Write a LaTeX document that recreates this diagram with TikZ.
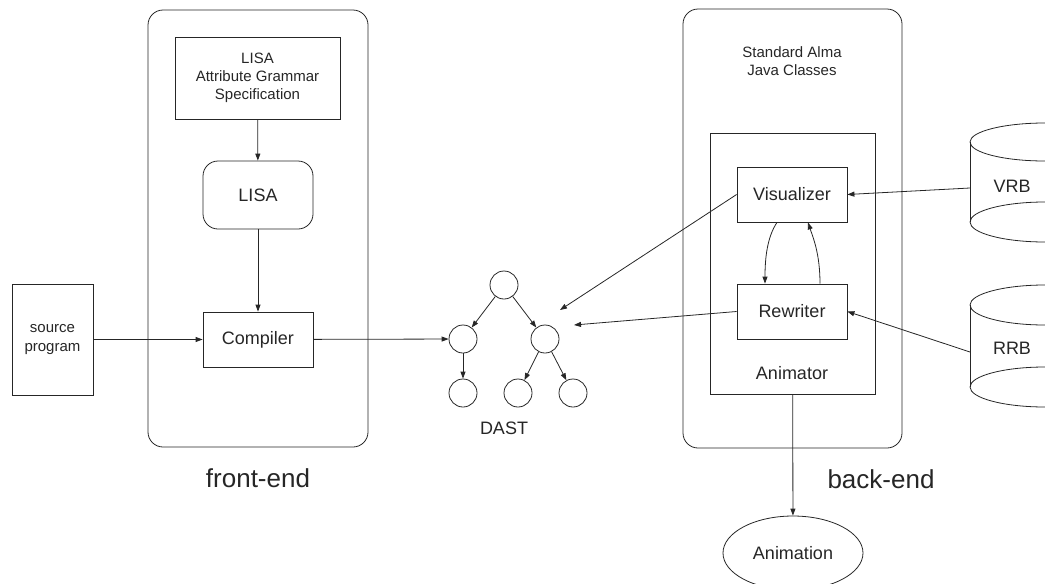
\documentclass[tikz,border=0pt]{standalone}
\usepackage{fontspec}
\setmainfont{Liberation Sans}
\usetikzlibrary{arrows.meta,shapes.geometric}
\tikzset{
  bigtext/.style={font=\fontsize{18}{21}\selectfont},
  smalltext/.style={font=\fontsize{15}{18.3}\selectfont},
  hugetext/.style={font=\fontsize{26}{30}\selectfont},
  box/.style={draw, rectangle, inner sep=0pt, align=center},
  dnode/.style={draw, circle, minimum size=28pt, inner sep=0pt},
  arr/.style={-{Triangle[length=7pt,width=5pt]}}
}

\begin{document}
\begin{tikzpicture}[x=1pt, y=-1pt, line width=0.8pt, color=black!85]
			%%%%% START %%%%%
			\useasboundingbox (0,0) rectangle (1045,584);
			
			% front-end
			\draw[rounded corners=15pt] (148,10) rectangle (368,447);
			\node[hugetext] (front) at (258,478) {front-end};
			\node[box, smalltext, minimum width=165pt, minimum height=82pt] (spec) at (257.5,78) {LISA\\Attribute Grammar\\Specification};
			\node[box, bigtext, rounded corners=15pt, minimum width=110pt, minimum height=68pt] (lisa) at (258,195) {LISA};
			\node[box, bigtext, minimum width=110pt, minimum height=55pt] (comp) at (258,339.5) {Compiler};
			\node[box, smalltext, minimum width=81pt, minimum height=111pt] (src) at (52.5,339.5) {source\\program};
			
			\draw[arr] (spec) -- (lisa);
			\draw[arr] (lisa) -- (comp);
			\draw[arr] (src) -- (comp);
			
			% DAST
			\node[dnode] (dTop) at (504,285) {};
			\node[dnode] (dL) at (463,339) {};
			\node[dnode] (dR) at (545,339) {};
			\node[dnode] (dLL) at (463,393) {};
			\node[dnode] (dRM) at (518,393) {};
			\node[dnode] (dRR) at (573,393) {};
			\node[bigtext] (dast) at (504,428) {DAST};
			
			\draw[arr] (dTop) -- (dL);
			\draw[arr] (dTop) -- (dR);
			\draw[arr] (dL) -- (dLL);
			\draw[arr] (dR) -- (dRM);
			\draw[arr] (dR) -- (dRR);
			\draw[arr] (comp) -- (dL);
			
			% back-end
			\draw[rounded corners=15pt] (683,9) rectangle (902,448);
			\node[hugetext] (back) at (881,479) {back-end};
			\node[smalltext, align=center] (alma) at (792,61) {Standard Alma\\Java Classes};
			\node[box, minimum width=165pt, minimum height=261pt] (anim) at (792.5,263.5) {};
			\node[bigtext] (animlabel) at (792,373) {Animator};
			\node[box, bigtext, minimum width=110pt, minimum height=55pt] (vis) at (792,194.5) {Visualizer};
			\node[box, bigtext, minimum width=110pt, minimum height=55pt] (rew) at (792,311.5) {Rewriter};
			\node[draw, ellipse, bigtext, minimum width=140pt, minimum height=74pt, inner sep=0pt] (animation) at (793,553) {Animation};
			
			\draw[arr] ([xshift=-15pt]vis.south) .. controls +(-10,15) and +(0,-25) .. ([xshift=-27pt]rew.north);
			\draw[arr] ([xshift=28pt]rew.north) .. controls +(0,-30) and +(5,15) .. ([xshift=16pt]vis.south);
			\draw[arr] (anim) -- (animation);
			
			% rule bases
			\draw (1045,142) ellipse [x radius=75pt, y radius=19pt];
			\draw (970,142) -- (970,222);
			\draw (1045,222) ellipse [x radius=75pt, y radius=20pt];
			\node[bigtext] (vrb) at (1012,186) {VRB};
			\coordinate (vrbL) at (970,188);
			
			\draw (1045,305) ellipse [x radius=75pt, y radius=20pt];
			\draw (970,305) -- (970,387);
			\draw (1045,387) ellipse [x radius=75pt, y radius=20pt];
			\node[bigtext] (rrb) at (1012,348) {RRB};
			\coordinate (rrbL) at (970,352);
			
			\coordinate (dastA) at (560,310);
			\coordinate (dastB) at (574,325);
			
			\draw[arr] (vrbL) -- (vis.east);
			\draw[arr] (rrbL) -- (rew.east);
			\draw[arr] (vis.west) -- (dastA);
			\draw[arr] (rew.west) -- (dastB);
			
			%%%%% END %%%%%
\end{tikzpicture}
\end{document}
